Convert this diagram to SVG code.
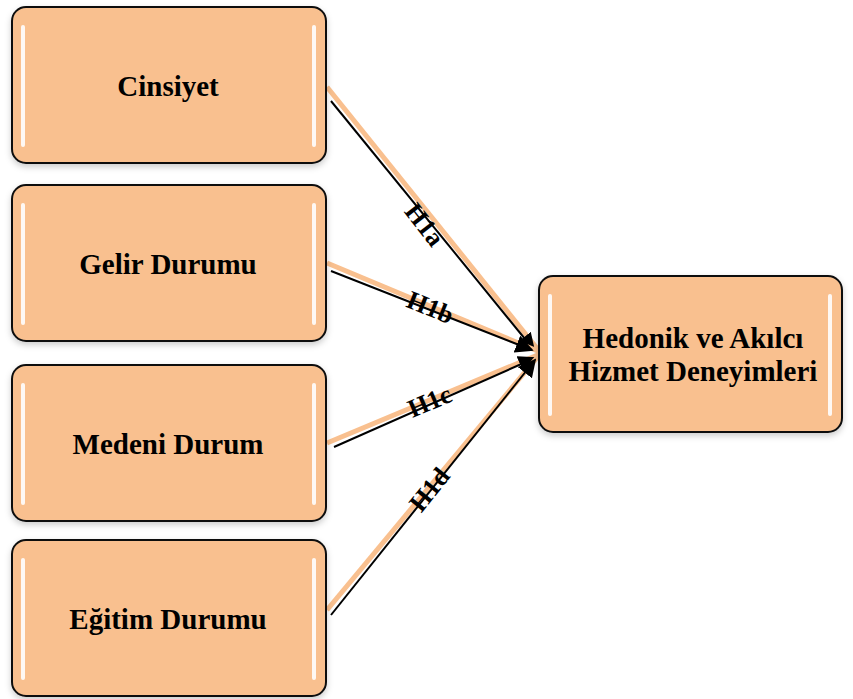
<svg xmlns="http://www.w3.org/2000/svg" width="853" height="699" viewBox="0 0 853 699">
<defs>
<style>
.box{fill:#F9C08F;stroke:#111;stroke-width:2}
.hl{stroke:#fff;stroke-width:4;stroke-linecap:round;opacity:0.9}
.t{font-family:"Liberation Serif","Times New Roman",serif;font-weight:bold;font-size:29px;fill:#000;text-anchor:middle}
.lab{font-family:"Liberation Serif","Times New Roman",serif;font-weight:bold;font-size:26px;fill:#000;text-anchor:middle}
.glow{stroke:#F9C08F;stroke-width:5;fill:none}
.ln{stroke:#000;stroke-width:2;fill:none}
</style>
<filter id="sh" x="-10%" y="-10%" width="120%" height="130%">
<feDropShadow dx="0" dy="3" stdDeviation="3" flood-color="#000" flood-opacity="0.2"/>
</filter>
<marker id="arw" viewBox="0 0 10 10" refX="9" refY="5" markerWidth="9" markerHeight="9" orient="auto">
<path d="M0,0 L10,5 L0,10 z" fill="#000"/>
</marker>
</defs>
<rect width="853" height="699" fill="#fff"/>
<g id="connectors">
<line class="glow" x1="327" y1="87" x2="540" y2="352"/>
<line class="ln" x1="331" y1="101" x2="534" y2="350" marker-end="url(#arw)"/>
<line class="glow" x1="327" y1="263" x2="540" y2="352"/>
<line class="ln" x1="331" y1="271" x2="532" y2="350" marker-end="url(#arw)"/>
<line class="glow" x1="327" y1="443" x2="540" y2="354"/>
<line class="ln" x1="334" y1="447" x2="535" y2="358" marker-end="url(#arw)"/>
<line class="glow" x1="327" y1="610" x2="540" y2="354"/>
<line class="ln" x1="331" y1="615" x2="535" y2="360" marker-end="url(#arw)"/>
<text class="lab" transform="translate(424,225) rotate(52)" dy="8">H1a</text>
<text class="lab" transform="translate(430,308) rotate(22)" dy="8">H1b</text>
<text class="lab" transform="translate(430,402) rotate(-23)" dy="8">H1c</text>
<text class="lab" transform="translate(430,490) rotate(-51)" dy="8">H1d</text>
</g>
<g id="node-cinsiyet">
<rect class="box" x="12" y="7" width="314" height="156" rx="14" filter="url(#sh)"/>
<line class="hl" x1="23" y1="27" x2="23" y2="145"/>
<line class="hl" x1="314" y1="27" x2="314" y2="145"/>
<text class="t" x="168" y="96">Cinsiyet</text>
</g>
<g id="node-gelir">
<rect class="box" x="12" y="185" width="314" height="156" rx="14" filter="url(#sh)"/>
<line class="hl" x1="23" y1="205" x2="23" y2="323"/>
<line class="hl" x1="314" y1="205" x2="314" y2="323"/>
<text class="t" x="168" y="274">Gelir Durumu</text>
</g>
<g id="node-medeni">
<rect class="box" x="12" y="365" width="314" height="156" rx="14" filter="url(#sh)"/>
<line class="hl" x1="23" y1="385" x2="23" y2="503"/>
<line class="hl" x1="314" y1="385" x2="314" y2="503"/>
<text class="t" x="168" y="454">Medeni Durum</text>
</g>
<g id="node-egitim">
<rect class="box" x="12" y="540" width="314" height="156" rx="14" filter="url(#sh)"/>
<line class="hl" x1="23" y1="560" x2="23" y2="678"/>
<line class="hl" x1="314" y1="560" x2="314" y2="678"/>
<text class="t" x="168" y="629">Eğitim Durumu</text>
</g>
<g id="node-hedonik">
<rect class="box" x="539" y="276" width="303" height="156" rx="14" filter="url(#sh)"/>
<line class="hl" x1="550" y1="296" x2="550" y2="414"/>
<line class="hl" x1="830" y1="296" x2="830" y2="414"/>
<text class="t" x="693" y="348">Hedonik ve Akılcı</text>
<text class="t" x="693" y="381">Hizmet Deneyimleri</text>
</g>
</svg>
